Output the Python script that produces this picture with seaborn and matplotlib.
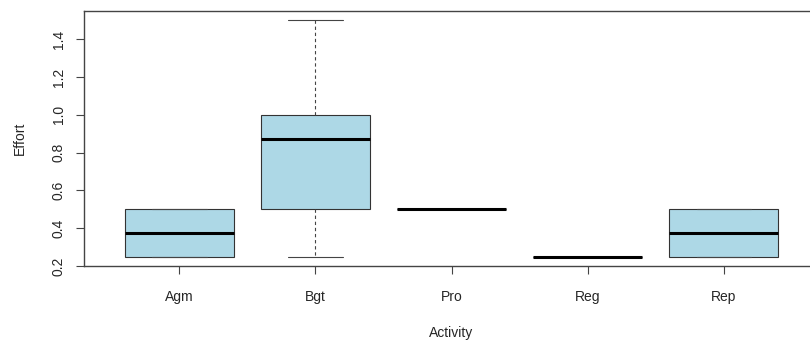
import matplotlib
matplotlib.use('Agg')
import matplotlib.pyplot as plt
import seaborn as sns
import pandas as pd
import numpy as np

# effort values per activity
activities = ['Agm', 'Bgt', 'Pro', 'Reg', 'Rep']
agm = [0.25, 0.25, 0.5, 0.5]
bgt = [0.25, 0.5, 0.5, 0.75, 1.0, 1.0, 1.0, 1.5]
pro = [0.5, 0.5]
reg = [0.25, 0.25]
rep = [0.25, 0.25, 0.5, 0.5]

rows = []
for name, vals in zip(activities, [agm, bgt, pro, reg, rep]):
    for v in vals:
        rows.append({'Activity': name, 'Effort': v})
df = pd.DataFrame(rows)

sns.set_style('white')
plt.rcParams['font.family'] = ['Liberation Sans', 'DejaVu Sans']

fig = plt.figure(figsize=(8.1, 3.42), dpi=100)
# R-style plot region, the right side runs past the image edge
ax = fig.add_axes([84 / 810, 76 / 342, 735 / 810, 255 / 342])

sns.boxplot(data=df, x='Activity', y='Effort', order=activities, ax=ax,
            color='#ADD8E6', saturation=1, width=0.8, whis=1.5,
            linecolor='#333333', linewidth=0.8, fliersize=0,
            medianprops={'color': 'black', 'linewidth': 2.2},
            whiskerprops={'linestyle': (0, (3, 2.5)), 'color': '#444444'},
            capprops={'color': '#444444'})

ax.set_xlim(-0.7, 4.7)
ax.set_ylim(0.2, 1.55)
ax.set_yticks([0.2, 0.4, 0.6, 0.8, 1.0, 1.2, 1.4])
ax.set_yticklabels(['0.2', '0.4', '0.6', '0.8', '1.0', '1.2', '1.4'],
                   rotation=90, va='center')
ax.tick_params(axis='both', direction='out', length=6, width=0.8,
               color='#444444', labelsize=10, left=True, bottom=True)
ax.tick_params(axis='y', pad=7)
ax.tick_params(axis='x', pad=11)
for s in ax.spines.values():
    s.set_color('#444444')
    s.set_linewidth(1)
ax.set_xlabel('Activity', fontsize=10, labelpad=16)
ax.set_ylabel('Effort', fontsize=10, labelpad=18)

plt.savefig('out.png', dpi=100)
